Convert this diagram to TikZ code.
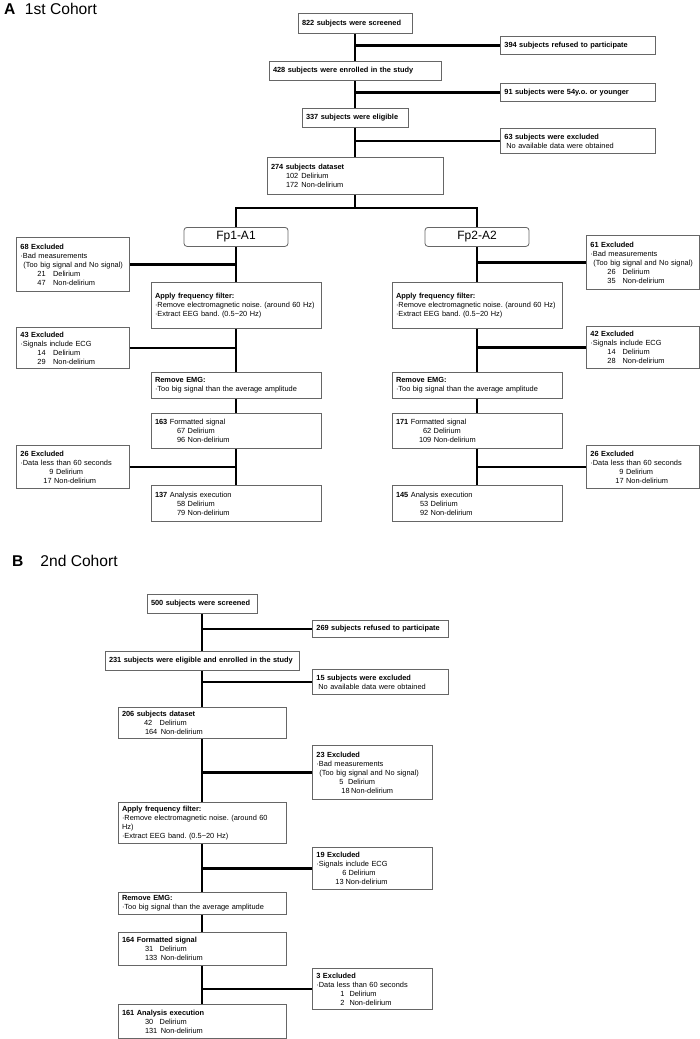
\documentclass[tikz,border=0pt]{standalone}
\usepackage{fontspec}
\setmainfont{Liberation Sans}
\usetikzlibrary{positioning}

\newcommand{\tally}[4][3]{\hspace*{#2pt}#3\hspace{#1pt}#4}

\begin{document}
\frenchspacing
\begin{tikzpicture}[
    x=1pt, y=-1pt,
    font=\fontsize{7.4}{9}\selectfont,
    stagebox/.style={rectangle, draw=black!60, line width=0.8pt, fill=white, text width=#1pt, inner xsep=4pt, inner ysep=1pt, align=left, anchor=north},
    exclbox/.style={stagebox=#1, anchor=north west},
    chanbox/.style={rectangle, draw=black!60, line width=0.8pt, rounded corners=3pt, minimum width=104pt, minimum height=19pt, inner sep=0pt, anchor=north, font=\fontsize{12}{14}\selectfont},
    link/.style={line width=2.6pt},
    paneltitle/.style={anchor=base west, inner sep=0pt, font=\fontsize{15.6}{18}\selectfont}
]
    \fill[white] (0,0) rectangle (700,1039);
    \useasboundingbox (0,0) rectangle (700,1039);

    % 1st cohort
    \node[paneltitle] (titleA) at (4,14) {\textbf{A}\hspace{9.5pt}1st Cohort};

    \node[stagebox=106, minimum height=20pt] (screenA) at (355,13) {\textbf{822 subjects were screened}};
    \node[exclbox=147, minimum height=18pt] (refuseA) at (500,36) {\textbf{394 subjects refused to participate}};
    \node[stagebox=164, minimum height=19pt] (enrolA) at (355,61) {\textbf{428 subjects were enrolled in the study}};
    \node[exclbox=147, minimum height=18pt] (youngA) at (500,83) {\textbf{91 subjects were 54y.o. or younger}};
    \node[stagebox=98, minimum height=19pt] (eligA) at (355,108) {\textbf{337 subjects were eligible}};
    \node[exclbox=147, minimum height=25pt] (missA) at (500,128) {\textbf{63 subjects were excluded}\\\hspace*{2pt}No available data were obtained};
    \node[stagebox=168, minimum height=37pt] (dataA) at (355,157) {\textbf{274 subjects dataset}\\\tally{15}{102}{Delirium}\\\tally{15}{172}{Non-delirium}};

    \node[chanbox] (fpone) at (236,227) {Fp1-A1};
    \node[chanbox] (fptwo) at (477,227) {Fp2-A2};

    % Fp1-A1 branch
    \node[exclbox=105, minimum height=54pt] (badL) at (16,237) {\textbf{68 Excluded}\\·Bad measurements\\\hspace*{3pt}(Too big signal and No signal)\\\tally[7.5]{17}{21}{Delirium}\\\tally[7.5]{17}{47}{Non-delirium}};
    \node[stagebox=162, minimum height=46pt] (filtL) at (236,282) {\textbf{Apply frequency filter:}\\·Remove electromagnetic noise. (around 60 Hz)\\·Extract EEG band. (0.5\textasciitilde20 Hz)};
    \node[exclbox=105, minimum height=41pt] (ecgL) at (16,327) {\textbf{43 Excluded}\\·Signals include ECG\\\tally[7.5]{17}{14}{Delirium}\\\tally[7.5]{17}{29}{Non-delirium}};
    \node[stagebox=162, minimum height=26pt] (emgL) at (236,372) {\textbf{Remove EMG:}\\·Too big signal than the average amplitude};
    \node[stagebox=162, minimum height=35pt] (fmtL) at (236,413) {\textbf{163} Formatted signal\\\tally[2.5]{22}{67}{Delirium}\\\tally[2.5]{22}{96}{Non-delirium}};
    \node[exclbox=105, minimum height=43pt] (shortL) at (16,445) {\textbf{26 Excluded}\\·Data less than 60 seconds\\\tally[2.5]{29}{9}{Delirium}\\\tally[2.5]{23}{17}{Non-delirium}};
    \node[stagebox=162, minimum height=36pt] (anaL) at (236,485) {\textbf{137} Analysis execution\\\tally[2.5]{22}{58}{Delirium}\\\tally[2.5]{22}{79}{Non-delirium}};

    % Fp2-A2 branch
    \node[exclbox=105, minimum height=54pt] (badR) at (586,235) {\textbf{61 Excluded}\\·Bad measurements\\\hspace*{3pt}(Too big signal and No signal)\\\tally[7]{17}{26}{Delirium}\\\tally[7]{17}{35}{Non-delirium}};
    \node[stagebox=162, minimum height=46pt] (filtR) at (477,282) {\textbf{Apply frequency filter:}\\·Remove electromagnetic noise. (around 60 Hz)\\·Extract EEG band. (0.5\textasciitilde20 Hz)};
    \node[exclbox=105, minimum height=42pt] (ecgR) at (586,326) {\textbf{42 Excluded}\\·Signals include ECG\\\tally[7]{17}{14}{Delirium}\\\tally[7]{17}{28}{Non-delirium}};
    \node[stagebox=162, minimum height=26pt] (emgR) at (477,372) {\textbf{Remove EMG:}\\·Too big signal than the average amplitude};
    \node[stagebox=162, minimum height=35pt] (fmtR) at (477,413) {\textbf{171} Formatted signal\\\tally[2.5]{27}{62}{Delirium}\\\tally[2.5]{23}{109}{Non-delirium}};
    \node[exclbox=105, minimum height=43pt] (shortR) at (586,445) {\textbf{26 Excluded}\\·Data less than 60 seconds\\\tally[2.5]{29}{9}{Delirium}\\\tally[2.5]{25}{17}{Non-delirium}};
    \node[stagebox=162, minimum height=36pt] (anaR) at (477,485) {\textbf{145} Analysis execution\\\tally[2.5]{24}{53}{Delirium}\\\tally[2.5]{24}{92}{Non-delirium}};

    \draw[link] (screenA) -- (enrolA) -- (eligA) -- (dataA);
    \draw[link] (refuseA.west) -- (refuseA.west -| screenA.south);
    \draw[link] (youngA.west) -- (youngA.west -| screenA.south);
    \draw[link] (missA.west) -- (missA.west -| screenA.south);
    \coordinate (forkA) at (355,208);
    \draw[link] (dataA) -- (forkA);
    \draw[link] (fpone.north) |- (forkA) -| (fptwo.north);

    \draw[link] (fpone) -- (filtL) -- (emgL) -- (fmtL) -- (anaL);
    \draw[link] (badL.east) -- (badL.east -| fpone.south);
    \draw[link] (ecgL.east) -- (ecgL.east -| fpone.south);
    \draw[link] (shortL.east) -- (shortL.east -| fpone.south);

    \draw[link] (fptwo) -- (filtR) -- (emgR) -- (fmtR) -- (anaR);
    \draw[link] (badR.west) -- (badR.west -| fptwo.south);
    \draw[link] (ecgR.west) -- (ecgR.west -| fptwo.south);
    \draw[link] (shortR.west) -- (shortR.west -| fptwo.south);

    % 2nd cohort
    \node[paneltitle] (titleB) at (12,566) {\textbf{B}\hspace{17pt}2nd Cohort};

    \node[stagebox=102, minimum height=19pt] (screenB) at (202,594) {\textbf{500 subjects were screened}};
    \node[exclbox=128, minimum height=17pt] (refuseB) at (312,620) {\textbf{269 subjects refused to participate}};
    \node[stagebox=186, minimum height=19pt] (enrolB) at (202,651) {\textbf{231 subjects were eligible and enrolled in the study}};
    \node[exclbox=128, minimum height=25pt] (missB) at (312,669) {\textbf{15 subjects were excluded}\\\hspace*{2pt}No available data were obtained};
    \node[stagebox=160, minimum height=31pt] (dataB) at (202,707) {\textbf{206 subjects dataset}\\\tally[7.5]{22}{42}{Delirium}\\\tally[3.5]{23}{164}{Non-delirium}};
    \node[exclbox=112, minimum height=54pt] (badB) at (312,745) {\textbf{23 Excluded}\\·Bad measurements\\\hspace*{3pt}(Too big signal and No signal)\\\tally[4.5]{23}{5}{Delirium}\\\tally[1.5]{25}{18}{Non-delirium}};
    \node[stagebox=160, minimum height=41pt] (filtB) at (202,802) {\textbf{Apply frequency filter:}\\·Remove electromagnetic noise. (around 60\\Hz)\\·Extract EEG band. (0.5\textasciitilde20 Hz)};
    \node[exclbox=112, minimum height=42pt] (ecgB) at (312,847) {\textbf{19 Excluded}\\·Signals include ECG\\\tally[2]{26}{6}{Delirium}\\\tally[2]{19}{13}{Non-delirium}};
    \node[stagebox=160, minimum height=22pt] (emgB) at (202,892) {\textbf{Remove EMG:}\\·Too big signal than the average amplitude};
    \node[stagebox=160, minimum height=33pt] (fmtB) at (202,932) {\textbf{164 Formatted signal}\\\tally[6.5]{23}{31}{Delirium}\\\tally[3.5]{23}{133}{Non-delirium}};
    \node[exclbox=112, minimum height=41pt] (shortB) at (312,968) {\textbf{3 Excluded}\\·Data less than 60 seconds\\\tally[5]{24}{1}{Delirium}\\\tally[5]{24}{2}{Non-delirium}};
    \node[stagebox=160, minimum height=34pt] (anaB) at (202,1004) {\textbf{161 Analysis execution}\\\tally[6.5]{23}{30}{Delirium}\\\tally[3.5]{23}{131}{Non-delirium}};

    \draw[link] (screenB) -- (enrolB) -- (dataB) -- (filtB) -- (emgB) -- (fmtB) -- (anaB);
    \draw[link] (refuseB.west) -- (refuseB.west -| screenB.south);
    \draw[link] (missB.west) -- (missB.west -| screenB.south);
    \draw[link] (badB.west) -- (badB.west -| screenB.south);
    \draw[link] (ecgB.west) -- (ecgB.west -| screenB.south);
    \draw[link] (shortB.west) -- (shortB.west -| screenB.south);
\end{tikzpicture}
\end{document}
